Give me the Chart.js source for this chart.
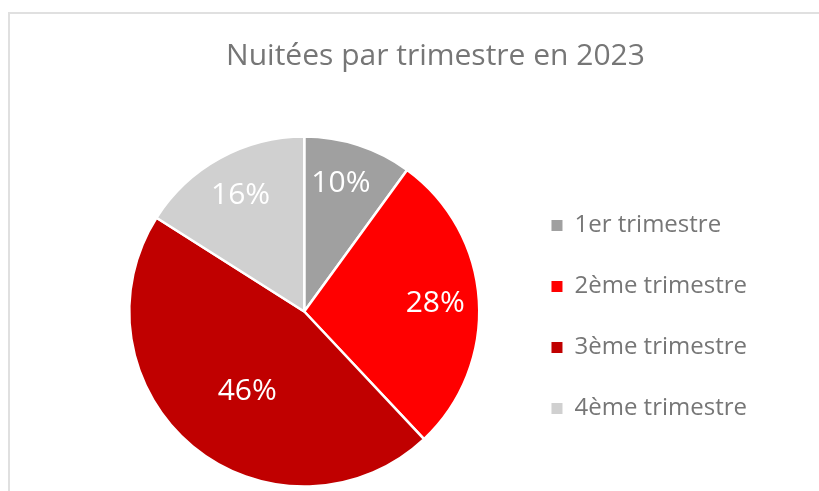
<!DOCTYPE html>
<html lang="fr">
<head>
<meta charset="utf-8">
<title>Nuitées par trimestre en 2023</title>
<script src="https://cdn.jsdelivr.net/npm/chart.js@4.4.1/dist/chart.umd.min.js"></script>
<style>
    html, body { margin: 0; padding: 0; background: #fff; overflow: hidden; }
    .wrap { position: relative; width: 819px; height: 491px; overflow: hidden; }
    .frame {
        position: absolute; left: 8px; top: 12px; right: -20px; bottom: -20px;
        border: 2px solid #e0e0e0; pointer-events: none;
    }
    .chart-box { position: absolute; left: 0; top: 0; width: 819px; height: 491px; }
</style>
</head>
<body>
<div class="wrap">
    <div class="frame"></div>
    <div class="chart-box"><canvas id="pieChart"></canvas></div>
</div>
<script>
// Chart data
const categories = ['1er trimestre', '2ème trimestre', '3ème trimestre', '4ème trimestre'];
const shares = [10, 28, 46, 16];
const sliceColors = ['#a0a0a0', '#ff0000', '#c00000', '#d0d0d0'];
const chartTitle = 'Nuitées par trimestre en 2023';

// where each % label sits: fraction of the radius, and a small turn (degrees) off the slice middle
const labelRadius = [0.76, 0.75, 0.56, 0.755];
const labelTurn = [-2, 0, -4, 0];

const textGray = '#767676';

// White percentage labels inside the slices
const pctLabels = {
    id: 'pctLabels',
    afterDatasetsDraw(chart) {
        const ctx = chart.ctx;
        const meta = chart.getDatasetMeta(0);
        const values = chart.data.datasets[0].data;
        const total = values.reduce((a, b) => a + b, 0);
        ctx.save();
        ctx.font = '30px "Open Sans"';
        ctx.fillStyle = '#ffffff';
        ctx.textAlign = 'center';
        ctx.textBaseline = 'middle';
        meta.data.forEach((arc, i) => {
            const p = arc.getProps(['x', 'y', 'startAngle', 'endAngle', 'outerRadius'], true);
            const mid = (p.startAngle + p.endAngle) / 2 + labelTurn[i] * Math.PI / 180;
            const r = p.outerRadius * labelRadius[i];
            const pct = Math.round(values[i] / total * 100) + '%';
            ctx.fillText(pct, p.x + Math.cos(mid) * r, p.y + Math.sin(mid) * r);
        });
        ctx.restore();
    }
};

// Title is centred on the whole frame, not on the area left of the legend
const titleShift = {
    id: 'titleShift',
    afterLayout(chart) {
        const t = chart.titleBlock;
        if (t) {
            t.left += 10;
            t.right += 10;
        }
    }
};

document.addEventListener('DOMContentLoaded', function () {
    const ctx = document.getElementById('pieChart');
    new Chart(ctx, {
        type: 'pie',
        data: {
            labels: categories,
            datasets: [{
                data: shares,
                backgroundColor: sliceColors,
                borderColor: '#ffffff',
                borderWidth: 2.5,
                radius: 175
            }]
        },
        options: {
            responsive: true,
            maintainAspectRatio: false,
            animation: false,
            layout: {
                padding: { left: 94, right: 62, top: 0, bottom: 0 }
            },
            plugins: {
                title: {
                    display: true,
                    text: chartTitle,
                    color: textGray,
                    font: { family: '"Open Sans"', size: 30, weight: 'normal' },
                    padding: { top: 38, bottom: 58 }
                },
                legend: {
                    position: 'right',
                    fullSize: false,
                    // empty legend title only used to push the items down a little
                    title: { display: true, text: '', font: { size: 1 }, padding: 5 },
                    labels: {
                        color: textGray,
                        font: { family: '"Open Sans"', size: 24 },
                        boxWidth: 11,
                        boxHeight: 11,
                        padding: 37,
                        generateLabels(chart) {
                            const items = Chart.overrides.pie.plugins.legend.labels.generateLabels(chart);
                            return items.map(item => Object.assign(item, { lineWidth: 0 }));
                        }
                    }
                },
                tooltip: { enabled: false }
            }
        },
        plugins: [pctLabels, titleShift]
    });
});
</script>
</body>
</html>
